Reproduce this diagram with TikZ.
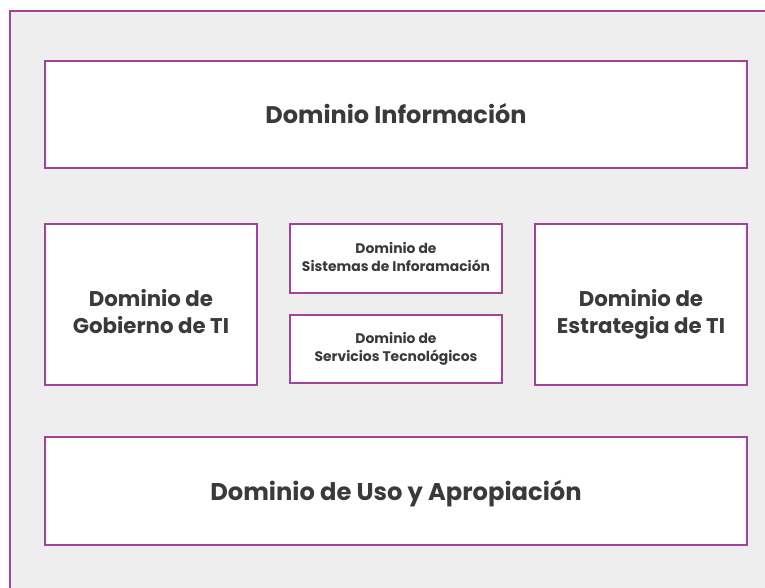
\documentclass[tikz,border=0pt]{standalone}
\usepackage{fontspec}
\setmainfont{Poppins}
\usetikzlibrary{positioning}

\definecolor{marco}{HTML}{A2429A}
\definecolor{fondo}{HTML}{EEEEEE}
\definecolor{texto}{HTML}{3A3A3A}

\begin{document}
\begin{tikzpicture}[x=1pt, y=-1pt,
    dominio/.style={draw=marco, line width=2.4pt, fill=white, align=center,
        text=texto, font=\bfseries, inner sep=0pt},
    medio/.style={align=center, text=texto, inner sep=0pt,
        font=\bfseries\fontsize{21.3}{27}\selectfont}]

% Fixed page size
\useasboundingbox (0,0) rectangle (765,588);

% Grey frame
\draw[marco, line width=2.6pt, fill=fondo] (10,11) rectangle (790,610);

% Wide boxes
\node[dominio, minimum width=702pt, minimum height=107pt, font=\bfseries\fontsize{24}{27}\selectfont]
    (info) at (396,114.5) {\raisebox{1pt}[\height][\depth]{Dominio Información}};
\node[dominio, minimum width=702pt, minimum height=108pt, font=\bfseries\fontsize{24.2}{27}\selectfont]
    (uso) at (396,491) {\raisebox{-2.5pt}[\height][\depth]{Dominio de Uso y Apropiación}};

% Side boxes, text sits a little low
\node[dominio, minimum width=212pt, minimum height=161pt,
    label={[medio, yshift=-9.5pt]center:Dominio de\\Gobierno de TI\vphantom{g}}]
    (gobierno) at (151,304.5) {};
\node[dominio, minimum width=212pt, minimum height=161pt,
    label={[medio, yshift=-9.5pt]center:Dominio de\\Estrategia de TI}]
    (estrategia) at (641,304.5) {};

% Middle boxes
\node[dominio, minimum width=212pt, minimum height=69pt, font=\bfseries\fontsize{13.9}{18}\selectfont]
    (sistemas) at (396,258.5) {Dominio de\\Sistemas de Inforamación\vphantom{g}};
\node[dominio, minimum width=212pt, minimum height=68pt, font=\bfseries\fontsize{13.9}{18}\selectfont]
    (servicios) at (396,349) {Dominio de\\Servicios Tecnológicos};

\end{tikzpicture}
\end{document}
